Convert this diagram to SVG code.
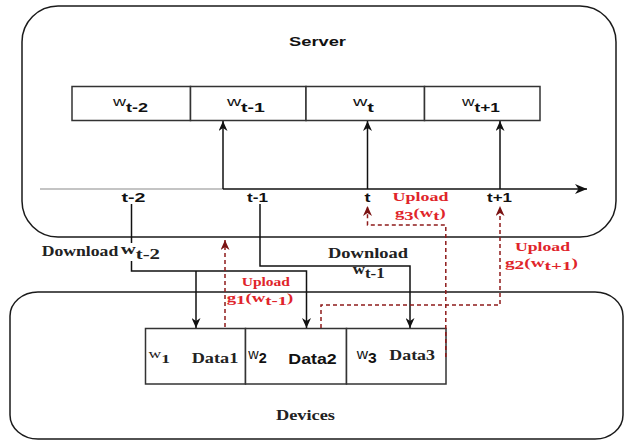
<svg xmlns="http://www.w3.org/2000/svg" width="625" height="441" viewBox="0 0 625 441">
  <defs>
    <style>
      .frame { fill: #ffffff; stroke: #1a1a1a; stroke-width: 1.5; }
      .cell { fill: #ffffff; stroke: #333333; stroke-width: 1.5; }
      .sans { font-family: "Liberation Sans", Arial, sans-serif; fill: #111111; }
      .serif { font-family: "Liberation Serif", "Times New Roman", serif; fill: #222222; }
      .b { font-weight: bold; }
      .red { fill: #e0242a; }
      .wire { fill: none; stroke: #111111; stroke-width: 1.5; }
      .dash { fill: none; stroke: #8e1b1b; stroke-width: 1.5; stroke-dasharray: 4 3; }
    </style>
    <marker id="arrowBlack" viewBox="0 0 10 9" refX="10" refY="4.5" markerWidth="10" markerHeight="9" markerUnits="userSpaceOnUse" orient="auto">
      <path d="M0,0 L10,4.5 L0,9 L3,4.5 Z" fill="#111111"/>
    </marker>
    <marker id="arrowAxis" viewBox="0 0 12 10" refX="12" refY="5" markerWidth="12" markerHeight="10" markerUnits="userSpaceOnUse" orient="auto">
      <path d="M0,0 L12,5 L0,10 L3.5,5 Z" fill="#111111"/>
    </marker>
    <marker id="arrowRed" viewBox="0 0 10 9" refX="10" refY="4.5" markerWidth="10" markerHeight="9" markerUnits="userSpaceOnUse" orient="auto">
      <path d="M0,0 L10,4.5 L0,9 L3,4.5 Z" fill="#7a1212"/>
    </marker>
  </defs>

  <rect width="625" height="441" fill="#ffffff"/>

  <!-- Server container -->
  <g id="server">
    <rect class="frame" x="22" y="6" width="594" height="231" rx="36" ry="36"/>
    <text class="sans b" x="289" y="46" font-size="13" textLength="57" lengthAdjust="spacingAndGlyphs">Server</text>
  </g>

  <!-- Devices container -->
  <g id="devices">
    <rect class="frame" x="10" y="292" width="613" height="147" rx="28" ry="24"/>
    <text class="serif b" x="276" y="420" font-size="15" textLength="59" lengthAdjust="spacingAndGlyphs">Devices</text>
  </g>

  <!-- Server-side model versions -->
  <g id="w-t-2">
    <rect class="cell" x="72" y="86.5" width="118.5" height="34"/>
    <text class="sans" x="113" y="106" font-size="13.5" textLength="35" lengthAdjust="spacingAndGlyphs">w<tspan class="b" dy="5.5">t-2</tspan></text>
  </g>
  <g id="w-t-1">
    <rect class="cell" x="190.5" y="86.5" width="115.5" height="34"/>
    <text class="sans" x="227" y="106" font-size="13.5" textLength="38" lengthAdjust="spacingAndGlyphs">w<tspan class="b" dy="5.5">t-1</tspan></text>
  </g>
  <g id="w-t">
    <rect class="cell" x="306" y="86.5" width="118.5" height="34"/>
    <text class="sans" x="353" y="106" font-size="13.5" textLength="21" lengthAdjust="spacingAndGlyphs">w<tspan class="b" dy="5.5">t</tspan></text>
  </g>
  <g id="w-t+1">
    <rect class="cell" x="424.5" y="86.5" width="115.5" height="34"/>
    <text class="sans" x="462" y="106" font-size="13.5" textLength="38" lengthAdjust="spacingAndGlyphs">w<tspan class="b" dy="5.5">t+1</tspan></text>
  </g>

  <!-- Time axis tick labels -->
  <g id="tick-t-2"><text class="sans b" x="121.5" y="201.5" font-size="13" textLength="24" lengthAdjust="spacingAndGlyphs">t-2</text></g>
  <g id="tick-t-1"><text class="sans b" x="247" y="201.5" font-size="13" textLength="21" lengthAdjust="spacingAndGlyphs">t-1</text></g>
  <g id="tick-t"><text class="sans b" x="364.5" y="201.5" font-size="13" textLength="6" lengthAdjust="spacingAndGlyphs">t</text></g>
  <g id="tick-t+1"><text class="sans b" x="487" y="201.5" font-size="13" textLength="25" lengthAdjust="spacingAndGlyphs">t+1</text></g>

  <!-- Device data partitions -->
  <g id="device-1">
    <rect class="cell" x="145.5" y="328.5" width="100" height="55.5"/>
    <text class="serif" x="148.5" y="358.3" font-size="13.5" textLength="21.5" lengthAdjust="spacingAndGlyphs">w<tspan class="b" dy="4.5">1</tspan></text>
    <text class="serif b" x="191.7" y="363.3" font-size="15" textLength="46.6" lengthAdjust="spacingAndGlyphs">Data1</text>
  </g>
  <g id="device-2">
    <rect class="cell" x="245.5" y="328.5" width="101" height="55.5"/>
    <text class="sans" x="248.3" y="358.5" font-size="14" textLength="18.4" lengthAdjust="spacingAndGlyphs">w<tspan class="b" dy="4.5">2</tspan></text>
    <text class="sans b" x="288.3" y="364" font-size="14" textLength="48.4" lengthAdjust="spacingAndGlyphs">Data2</text>
  </g>
  <g id="device-3">
    <rect class="cell" x="346.5" y="328.5" width="99.5" height="55.5"/>
    <text class="sans" x="356.7" y="358.5" font-size="14" textLength="20" lengthAdjust="spacingAndGlyphs">w<tspan class="b" dy="4.5">3</tspan></text>
    <text class="serif b" x="389.3" y="360" font-size="15" textLength="45.7" lengthAdjust="spacingAndGlyphs">Data3</text>
  </g>

  <!-- Connectors -->
  <g id="connectors">
    <!-- time axis -->
    <line x1="40" y1="189" x2="223" y2="189" stroke="#8a8a8a" stroke-width="1.2"/>
    <line class="wire" x1="223" y1="189" x2="587" y2="189" marker-end="url(#arrowAxis)"/>
    <!-- aggregation into model versions -->
    <line class="wire" x1="223" y1="189" x2="223" y2="121" marker-end="url(#arrowBlack)"/>
    <line class="wire" x1="367.5" y1="189" x2="367.5" y2="121" marker-end="url(#arrowBlack)"/>
    <line class="wire" x1="500" y1="189" x2="500" y2="121" marker-end="url(#arrowBlack)"/>
    <!-- download of w(t-2) -->
    <line class="wire" x1="131.5" y1="204" x2="131.5" y2="243"/>
    <polyline class="wire" points="131.5,261 131.5,271 306.5,271 306.5,328" marker-end="url(#arrowBlack)"/>
    <line class="wire" x1="196" y1="271" x2="196" y2="328" marker-end="url(#arrowBlack)"/>
    <!-- download of w(t-1) -->
    <polyline class="wire" points="260,204 260,266 410,266 410,328" marker-end="url(#arrowBlack)"/>
    <!-- gradient uploads -->
    <line class="dash" x1="225" y1="327" x2="225" y2="240" marker-end="url(#arrowRed)"/>
    <polyline class="dash" points="445.8,357 445.8,225 367.5,225 367.5,206" marker-end="url(#arrowRed)"/>
    <polyline class="dash" points="321,328 321,305 500,305 500,206" marker-end="url(#arrowRed)"/>
  </g>

  <!-- Connector labels -->
  <g id="label-download-t-2">
    <text class="serif b" x="41.7" y="255.5" font-size="14" textLength="76.6" lengthAdjust="spacingAndGlyphs">Download</text>
    <text class="serif b" x="120.7" y="253.5" font-size="14" textLength="39.3" lengthAdjust="spacingAndGlyphs">w<tspan dy="5.5">t-2</tspan></text>
  </g>
  <g id="label-download-t-1">
    <text class="serif b" x="328" y="257.5" font-size="14" textLength="80" lengthAdjust="spacingAndGlyphs">Download</text>
    <text class="serif b" x="352.7" y="274" font-size="14" textLength="32" lengthAdjust="spacingAndGlyphs">w<tspan dy="4">t-1</tspan></text>
  </g>
  <g id="label-upload-g1">
    <text class="serif b red" x="241.7" y="285.7" font-size="13.5" textLength="48.3" lengthAdjust="spacingAndGlyphs">Upload</text>
    <text class="serif b red" x="226.7" y="301.5" font-size="13.5" textLength="66.6" lengthAdjust="spacingAndGlyphs">g<tspan dy="2.5">1</tspan><tspan dy="-2.5">(w</tspan><tspan dy="3">t-1</tspan><tspan dy="-3">)</tspan></text>
  </g>
  <g id="label-upload-g3">
    <text class="serif b red" x="392.6" y="201" font-size="13.5" textLength="55.8" lengthAdjust="spacingAndGlyphs">Upload</text>
    <text class="serif b red" x="395" y="217" font-size="13.5" textLength="50.6" lengthAdjust="spacingAndGlyphs">g<tspan dy="2.5">3</tspan><tspan dy="-2.5">(w</tspan><tspan dy="3">t</tspan><tspan dy="-3">)</tspan></text>
  </g>
  <g id="label-upload-g2">
    <text class="serif b red" x="515" y="251" font-size="13.5" textLength="55" lengthAdjust="spacingAndGlyphs">Upload</text>
    <text class="serif b red" x="505" y="266.7" font-size="13.5" textLength="73" lengthAdjust="spacingAndGlyphs">g<tspan dy="2.5">2</tspan><tspan dy="-2.5">(w</tspan><tspan dy="3">t+1</tspan><tspan dy="-3">)</tspan></text>
  </g>
</svg>
